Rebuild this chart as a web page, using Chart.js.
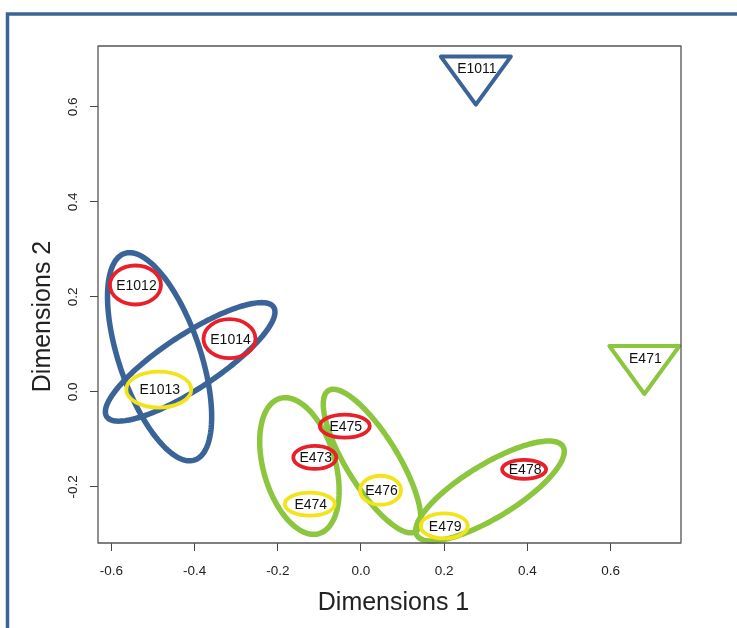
<!DOCTYPE html>
<html>
<head>
<meta charset="utf-8">
<title>MDS plot</title>
<script src="https://cdn.jsdelivr.net/npm/chart.js@4/dist/chart.umd.min.js"></script>
<style>
  html, body { margin: 0; padding: 0; background: #ffffff; }
  #wrap { width: 737px; height: 628px; }
</style>
</head>
<body>
<div id="wrap"><canvas id="mds" width="737" height="628"></canvas></div>
<script>
// ---- Sample coordinates (MDS dimensions) ----
const sampleNames = ['E1011', 'E1012', 'E1013', 'E1014', 'E471', 'E473', 'E474', 'E475', 'E476', 'E478', 'E479'];
const sampleGroup = ['E101', 'E101', 'E101', 'E101', 'E47', 'E47', 'E47', 'E47', 'E47', 'E47', 'E47'];
const sampleClass = ['ref', 'A', 'B', 'A', 'ref', 'A', 'B', 'A', 'B', 'A', 'B'];
const dim1 = [0.276, -0.542, -0.486, -0.316, 0.681, -0.111, -0.123, -0.039, 0.047, 0.392, 0.200];
const dim2 = [0.672, 0.225, 0.005, 0.112, 0.063, -0.138, -0.236, -0.072, -0.207, -0.163, -0.282];

// ---- Group ellipses: centre plus two semi-axis vectors, in data units ----
const ellipseGroup = ['E101', 'E101', 'E47', 'E47', 'E47'];
const ellipseCx = [-0.484, -0.4105, -0.148, 0.0265, 0.310];
const ellipseCy = [0.074, 0.0632, -0.156, -0.1455, -0.2086];
const ellipseUx = [0.0844, 0.2006, 0.0467, 0.1046, 0.1753];
const ellipseUy = [-0.2173, 0.1152, -0.1423, -0.1484, 0.0937];
const ellipseVx = [0.0924, 0.0358, 0.0832, 0.0527, 0.0334];
const ellipseVy = [0.0274, -0.0478, 0.0208, 0.0284, -0.0478];

// ---- Axes ----
const xRange = [-0.632, 0.769];
const yRange = [-0.318, 0.728];
const tickStep = 0.2;
const xTitle = 'Dimensions 1';
const yTitle = 'Dimensions 2';

// ---- Styling ----
const groupColor = { E101: '#3a6497', E47: '#8cc63f' };
const classColor = { A: '#e8202a', B: '#f2e31b' };
// label ring half-widths / half-heights in pixels
const ringSize = {
  E1012: [25.5, 19.5], E1013: [32.5, 18], E1014: [26, 19.5],
  E473: [21.5, 11.5], E474: [25, 11.5], E475: [25, 11.5],
  E476: [20.5, 14.5], E478: [22, 9.5], E479: [23.5, 12.5]
};
const FONT = '"Liberation Sans", Arial, Helvetica, sans-serif';

const frameAndLabels = {
  id: 'frameAndLabels',
  beforeDraw(chart) {
    const ctx = chart.ctx;
    ctx.save();
    ctx.fillStyle = '#ffffff';
    ctx.fillRect(0, 0, chart.width, chart.height);
    // outer panel frame
    ctx.strokeStyle = '#3a6497';
    ctx.lineWidth = 3.5;
    ctx.beginPath();
    ctx.moveTo(7.5, chart.height + 5);
    ctx.lineTo(7.5, 14);
    ctx.lineTo(chart.width + 5, 14);
    ctx.stroke();
    ctx.restore();
  },
  afterDraw(chart) {
    const ctx = chart.ctx;
    const xs = chart.scales.x, ys = chart.scales.y;
    const area = chart.chartArea;
    ctx.save();

    // group ellipses
    ellipseGroup.forEach((g, i) => {
      ctx.beginPath();
      const n = 180;
      for (let k = 0; k <= n; k++) {
        const t = (2 * Math.PI * k) / n;
        const dx = ellipseCx[i] + ellipseUx[i] * Math.cos(t) + ellipseVx[i] * Math.sin(t);
        const dy = ellipseCy[i] + ellipseUy[i] * Math.cos(t) + ellipseVy[i] * Math.sin(t);
        const px = xs.getPixelForValue(dx), py = ys.getPixelForValue(dy);
        if (k === 0) ctx.moveTo(px, py); else ctx.lineTo(px, py);
      }
      ctx.closePath();
      ctx.strokeStyle = groupColor[g];
      ctx.lineWidth = 5.5;
      ctx.stroke();
    });

    // sample markers with their names
    const meta = chart.getDatasetMeta(0);
    meta.data.forEach((pt, i) => {
      const name = sampleNames[i];
      const cls = sampleClass[i];
      const x = pt.x, y = pt.y;
      let ty = y;
      if (cls === 'ref') {
        ctx.beginPath();
        ctx.moveTo(x - 35, y - 16);
        ctx.lineTo(x + 35, y - 16);
        ctx.lineTo(x, y + 32);
        ctx.closePath();
        ctx.strokeStyle = groupColor[sampleGroup[i]];
        ctx.lineWidth = 4;
        ctx.lineJoin = 'round';
        ctx.stroke();
        ty = y - 4;
      } else {
        const r = ringSize[name];
        ctx.beginPath();
        ctx.ellipse(x, y, r[0], r[1], 0, 0, 2 * Math.PI);
        ctx.strokeStyle = classColor[cls];
        ctx.lineWidth = 3.8;
        ctx.stroke();
      }
      ctx.fillStyle = '#111111';
      ctx.font = '14px ' + FONT;
      ctx.textAlign = 'center';
      ctx.textBaseline = 'middle';
      ctx.fillText(name, x + 1, ty + 1);
    });

    // plot box
    ctx.strokeStyle = '#555555';
    ctx.lineWidth = 1.3;
    ctx.strokeRect(area.left, area.top, area.right - area.left, area.bottom - area.top);

    // tick labels
    ctx.fillStyle = '#222222';
    ctx.font = '13.5px ' + FONT;
    ctx.textAlign = 'center';
    ctx.textBaseline = 'middle';
    xs.ticks.forEach(t => {
      ctx.fillText(t.value.toFixed(1), xs.getPixelForValue(t.value), area.bottom + 28);
    });
    ys.ticks.forEach(t => {
      ctx.save();
      ctx.translate(area.left - 25, ys.getPixelForValue(t.value));
      ctx.rotate(-Math.PI / 2);
      ctx.fillText(t.value.toFixed(1), 0, 0);
      ctx.restore();
    });

    // axis titles
    ctx.fillStyle = '#222222';
    ctx.font = '25px ' + FONT;
    ctx.fillText(xTitle, (area.left + area.right) / 2 + 4, area.bottom + 60);
    ctx.save();
    ctx.translate(area.left - 55, (area.top + area.bottom) / 2 + 22);
    ctx.rotate(-Math.PI / 2);
    ctx.fillText(yTitle, 0, 0);
    ctx.restore();

    ctx.restore();
  }
};

new Chart(document.getElementById('mds'), {
  type: 'scatter',
  data: {
    datasets: [{
      label: 'samples',
      data: dim1.map((v, i) => ({ x: v, y: dim2[i] })),
      pointRadius: 0,
      pointHoverRadius: 0
    }]
  },
  options: {
    responsive: false,
    animation: false,
    devicePixelRatio: 1,
    events: [],
    layout: { padding: { top: 46, right: 56, bottom: 0, left: 0 } },
    plugins: { legend: { display: false }, tooltip: { enabled: false } },
    scales: {
      x: {
        type: 'linear',
        min: xRange[0], max: xRange[1],
        ticks: { stepSize: tickStep, includeBounds: false, display: false },
        grid: { drawOnChartArea: false, drawTicks: true, tickLength: 8, tickColor: '#444444', tickWidth: 1 },
        border: { display: false },
        afterFit(scale) { scale.height = 85; }
      },
      y: {
        type: 'linear',
        min: yRange[0], max: yRange[1],
        ticks: { stepSize: tickStep, includeBounds: false, display: false },
        grid: { drawOnChartArea: false, drawTicks: true, tickLength: 8, tickColor: '#444444', tickWidth: 1 },
        border: { display: false },
        afterFit(scale) { scale.width = 98; }
      }
    }
  },
  plugins: [frameAndLabels]
});
</script>
</body>
</html>
